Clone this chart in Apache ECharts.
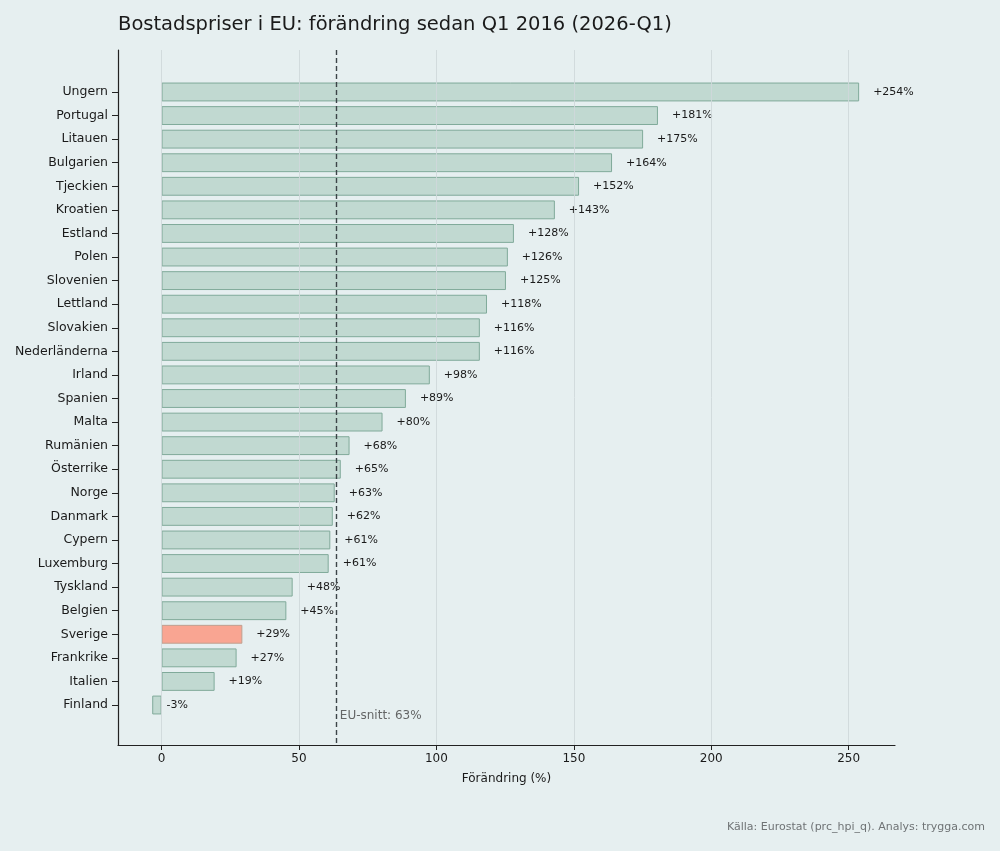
<!DOCTYPE html>
<html>
<head>
    <meta charset="utf-8">
    <title>Bostadspriser i EU</title>
    <script src="https://cdn.jsdelivr.net/npm/echarts@6/dist/echarts.min.js"></script>
    <style>
        html, body { margin: 0; padding: 0; background: #e6eff0; }
        #chart { width: 1000px; height: 851px; }
    </style>
</head>
<body>
    <div id="chart"></div>
    <script type="text/javascript">
        // data
        var countries = ['Ungern','Portugal','Litauen','Bulgarien','Tjeckien','Kroatien','Estland','Polen','Slovenien',
            'Lettland','Slovakien','Nederländerna','Irland','Spanien','Malta','Rumänien','Österrike','Norge','Danmark',
            'Cypern','Luxemburg','Tyskland','Belgien','Sverige','Frankrike','Italien','Finland'];
        var change = [253.8,180.6,175.2,163.9,151.9,143.1,128.2,126.0,125.3,
            118.4,115.8,115.8,97.6,88.9,80.4,68.4,65.2,63.0,62.3,
            61.4,60.8,47.7,45.4,29.4,27.3,19.3,-3.4];
        var highlight = 'Sverige';
        var euAvg = 63.4;
        var xTicks = [0, 50, 100, 150, 200, 250];

        var font = 'DejaVu Sans';
        var myChart = echarts.init(document.getElementById('chart'));

        var barData = change.map(function (v, i) {
            var item = { value: v };
            if (countries[i] === highlight) {
                item.itemStyle = { color: '#f9a592', borderColor: '#bfa090' };
            }
            if (v < 0) {
                item.label = { distance: 5 };
            }
            return item;
        });

        var option = {
            backgroundColor: '#e6eff0',
            animation: false,
            title: {
                text: 'Bostadspriser i EU: förändring sedan Q1 2016 (2026-Q1)',
                left: 113, top: 10,
                textStyle: { fontFamily: font, fontSize: 19.5, fontWeight: 'normal', color: '#1a1a1a' }
            },
            graphic: [{
                type: 'text', right: 15, top: 822,
                style: { text: 'Källa: Eurostat (prc_hpi_q). Analys: trygga.com', font: '11px "DejaVu Sans"', fill: '#6f7375' }
            }],
            grid: [
                { left: 118, right: 105, top: 50, bottom: 106 },
                { left: 118, right: 105, top: 80.2, height: 636.6 }
            ],
            xAxis: [
                {
                    gridIndex: 0, type: 'value', min: -15.85, max: 266.85,
                    name: 'Förändring (%)', nameLocation: 'middle', nameGap: 28,
                    nameTextStyle: { fontFamily: font, fontSize: 12, color: '#1a1a1a' },
                    axisLine: { show: true, onZero: false, lineStyle: { color: '#222', width: 1.2 } },
                    axisTick: { show: true, customValues: xTicks, length: 5, lineStyle: { color: '#222' } },
                    axisLabel: { customValues: xTicks, fontFamily: font, fontSize: 12, color: '#1a1a1a', margin: 8 },
                    splitLine: { show: false }
                },
                {
                    gridIndex: 1, type: 'value', min: -15.85, max: 266.85, show: false
                }
            ],
            yAxis: [
                {
                    gridIndex: 0, type: 'value', min: -1.78, max: 27.7, inverse: true,
                    axisLine: { show: true, onZero: false, lineStyle: { color: '#222', width: 1.2 } },
                    axisTick: { show: false }, axisLabel: { show: false }, splitLine: { show: false }
                },
                {
                    gridIndex: 1, type: 'category', inverse: true, data: countries,
                    axisLine: { show: false, onZero: false },
                    axisTick: { show: true, length: 6, alignWithLabel: true, lineStyle: { color: '#222' } },
                    axisLabel: { fontFamily: font, fontSize: 12.5, color: '#1a1a1a', margin: 10 }
                }
            ],
            series: [
                {
                    // grid lines, average line and its note
                    type: 'scatter', xAxisIndex: 0, yAxisIndex: 0, z: 1,
                    symbolSize: 0, silent: true,
                    data: [[euAvg, 26.46]],
                    label: {
                        show: true, position: 'right', distance: 4,
                        formatter: 'EU-snitt: ' + Math.round(euAvg) + '%',
                        fontFamily: font, fontSize: 12, color: '#444'
                    },
                    markLine: {
                        silent: true, symbol: 'none', label: { show: false },
                        data: xTicks.map(function (t) {
                            return { xAxis: t, lineStyle: { color: '#cfd8da', width: 0.9, type: 'solid' } };
                        }).concat([{ xAxis: euAvg, lineStyle: { color: '#3c4448', width: 1.4, type: [5, 3] } }])
                    }
                },
                {
                    type: 'bar', xAxisIndex: 1, yAxisIndex: 1, z: 2,
                    data: barData,
                    barCategoryGap: '20%',
                    itemStyle: { color: '#c1d9d1', borderColor: '#80aa9a', borderWidth: 1 },
                    label: {
                        show: true, position: 'right', distance: 14,
                        fontFamily: font, fontSize: 11, color: '#1a1a1a',
                        formatter: function (p) {
                            var r = Math.round(p.value);
                            return (r > 0 ? '+' : '') + r + '%';
                        }
                    }
                }
            ]
        };

        myChart.setOption(option);
    </script>
</body>
</html>
